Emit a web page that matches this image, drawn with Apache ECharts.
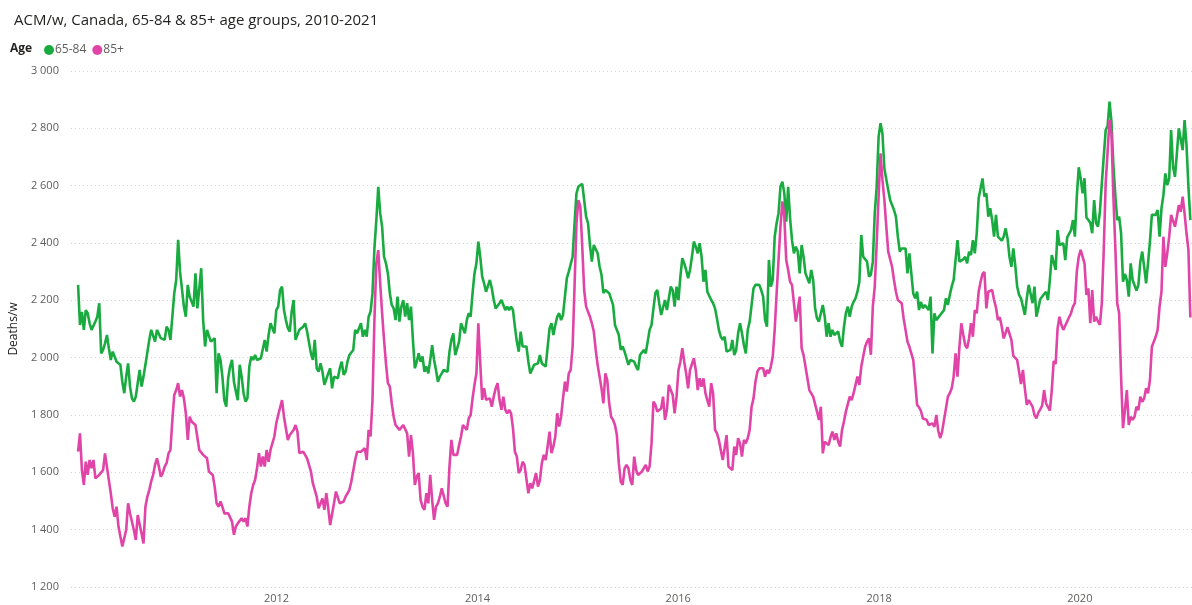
<!DOCTYPE html>
<html>
<head>
<meta charset="utf-8">
<title>ACM/w, Canada</title>
<script src="https://cdn.jsdelivr.net/npm/echarts@6/dist/echarts.min.js"></script>
<style>
  html, body { margin: 0; padding: 0; background: #fff; }
  #chart { width: 1192px; height: 605px; }
</style>
</head>
<body>
<div id="chart"></div>
<script>
// weekly deaths, week ending Saturdays from 2010-01-09
var firstWeek = Date.UTC(2010, 0, 9);

var age6584 = [
  // 2010
  2254,2114,2160,2097,2166,2155,2120,2097,2102,2126,2143,2190,2015,2027,2050,2079,2033,1992,2021,2004,
  1986,1980,1975,1916,1876,1934,1980,1899,1858,1847,1864,1911,1957,1899,1934,1975,1980,2062,2097,2102,
  2056,2097,2091,2068,2062,2062,2108,2097,2062,
  // 2011
  2143,2225,2271,2411,2300,2294,2178,2143,2254,2213,2207,2178,2294,2172,2178,2312,2131,2039,2097,2097,
  2056,2062,2068,1876,2015,1992,1934,1852,1829,1928,1969,1992,1916,1882,1852,1975,1934,1876,1847,1858,
  1969,2004,1992,2009,1992,1986,1998,1992,2062,2021,2079,2120,
  // 2012
  2120,2085,2166,2178,2236,2248,2166,2131,2103,2091,2160,2201,2062,2062,2097,2097,2108,2120,2091,2097,
  2015,1992,2062,1963,1951,1980,1951,1905,1899,1945,1963,1893,1934,1940,1928,1963,1986,1940,1951,1986,
  2009,2004,2027,2097,2085,2091,2120,2073,2097,2073,2143,
  // 2013
  2161,2225,2381,2480,2596,2504,2457,2352,2329,2294,2225,2184,2172,2131,2213,2126,2178,2201,2143,2190,
  2131,2178,2062,1963,1986,2015,1986,2004,1951,1969,1945,1992,2044,1992,1957,1916,1934,1945,1957,1957,
  1951,2021,2062,2085,2009,2009,2056,2120,2126,2085,2131,2155,
  // 2014
  2143,2225,2294,2329,2405,2352,2283,2259,2230,2236,2271,2242,2201,2172,2166,2190,2201,2207,2166,2178,
  2166,2178,2166,2108,2056,2021,2091,2039,2039,2039,1986,1945,1940,1975,1975,1980,2009,1980,1980,1969,
  1975,2102,2120,2079,2114,2143,2155,2131,2149,2213,2277,2300,
  // 2015
  2300,2352,2469,2573,2597,2602,2606,2550,2492,2469,2393,2335,2393,2393,2364,2318,2289,2225,2236,2230,
  2225,2219,2184,2114,2120,2079,2027,2039,2021,1998,1975,1992,1992,1986,1969,1957,2009,2004,2027,2015,
  2015,2097,2114,2172,2225,2236,2190,2149,2155,2201,2166,2207,
  // 2016
  2248,2236,2178,2248,2201,2283,2347,2329,2306,2277,2306,2352,2405,2387,2364,2399,2352,2265,2306,2230,
  2230,2201,2190,2172,2137,2097,2073,2062,2073,2021,2027,2027,2062,2009,2027,2085,2120,2085,2044,2015,
  2097,2126,2132,2242,2254,2259,2254,2236,2213,2132,2108,2341,
  // 2017
  2248,2271,2422,2469,2504,2596,2614,2573,2474,2596,2486,2410,2364,2387,2370,2294,2393,2352,2294,2277,
  2259,2306,2271,2172,2137,2126,2120,2184,2143,2073,2120,2073,2097,2079,2085,2091,2056,2038,2108,2155,
  2178,2143,2178,2195,2207,2230,2265,2428,2352,2352,2335,2283,
  // 2018
  2290,2335,2504,2596,2771,2818,2782,2660,2622,2585,2550,2544,2515,2492,2422,2370,2381,2376,2381,2294,
  2364,2294,2224,2207,2230,2166,2195,2172,2184,2190,2166,2213,2015,2155,2131,2137,2149,2143,2166,2207,
  2184,2219,2248,2271,2271,2410,2335,2335,2343,2352,2329,2370,
  // 2019
  2358,2410,2364,2434,2556,2556,2625,2562,2573,2492,2521,2480,2422,2498,2422,2422,2408,2422,2451,2416,
  2352,2317,2381,2323,2248,2219,2207,2201,2149,2207,2254,2259,2190,2248,2143,2172,2204,2210,2222,2230,
  2201,2271,2358,2352,2306,2445,2393,2393,2399,2340,2420,2422,
  // 2020 - Jan 2021
  2445,2480,2422,2562,2664,2626,2573,2626,2489,2480,2471,2434,2550,2469,2457,2509,2608,2614,2794,2808,
  2893,2823,2672,2567,2480,2492,2434,2265,2292,2271,2213,2329,2271,2271,2234,2254,2335,2370,2317,2259,
  2329,2405,2498,2504,2498,2515,2422,2521,2567,2643,2602,2625,2794,2666,2631,2713,2800,2800,2724,2829,
  2742,2596,2480
];

var age85plus = [
  // 2010
  1672,1736,1608,1556,1637,1591,1643,1614,1643,1579,1579,1591,1585,1608,1666,1672,1573,1527,1475,1445,
  1480,1411,1416,1341,1335,1399,1492,1457,1451,1399,1364,1451,1457,1387,1352,1480,1515,1538,1568,1591,
  1626,1649,1620,1585,1597,1620,1632,1666,1678,
  // 2011
  1783,1870,1887,1911,1864,1887,1858,1806,1713,1794,1777,1783,1765,1760,1678,1678,1661,1667,1649,1603,
  1603,1591,1550,1492,1480,1498,1480,1457,1457,1457,1463,1428,1382,1411,1422,1416,1440,1428,1440,1411,
  1480,1527,1556,1573,1614,1667,1620,1655,1620,1678,1637,1678,
  // 2012
  1678,1725,1771,1800,1806,1852,1794,1788,1713,1730,1725,1748,1765,1742,1667,1661,1672,1678,1649,1643,
  1603,1562,1568,1515,1475,1475,1509,1469,1527,1475,1416,1422,1492,1533,1539,1492,1486,1498,1515,1527,
  1539,1568,1568,1643,1672,1667,1672,1678,1684,1643,1748,
  // 2013
  1725,1853,2131,2329,2375,2259,2155,2062,1980,1911,1899,1841,1794,1765,1771,1748,1742,1765,1771,1736,
  1655,1730,1667,1556,1585,1597,1504,1480,1469,1527,1492,1591,1504,1434,1480,1492,1515,1544,1539,1492,
  1480,1620,1713,1661,1667,1661,1695,1725,1765,1760,1748,1788,
  // 2014
  1800,1858,1905,1945,2120,1980,1853,1893,1853,1847,1858,1829,1864,1893,1911,1853,1818,1864,1818,1806,
  1818,1806,1754,1672,1655,1597,1608,1637,1626,1632,1527,1562,1544,1539,1597,1550,1573,1632,1661,1643,
  1690,1742,1667,1690,1725,1806,1760,1794,1858,1916,1882,1945,
  // 2015
  1957,2039,2248,2469,2550,2527,2387,2236,2178,2172,2143,2120,2091,2027,1974,1934,1893,1841,1945,1922,
  1841,1794,1783,1765,1730,1632,1568,1556,1614,1626,1614,1573,1556,1655,1608,1591,1591,1603,1597,1626,
  1603,1620,1701,1847,1835,1812,1818,1823,1864,1783,1818,1905,
  // 2016
  1911,1870,1806,1864,1957,1986,2033,1986,1945,1893,1957,1963,1998,1957,1887,1928,1899,1928,1876,1852,
  1829,1911,1876,1748,1736,1713,1678,1643,1684,1730,1620,1614,1608,1690,1661,1719,1701,1655,1713,1701,
  1719,1748,1829,1858,1916,1951,1963,1957,1963,1934,1957,1945,
  // 2017
  1969,2004,2097,2224,2341,2457,2545,2492,2341,2306,2265,2254,2190,2126,2166,2213,2033,2009,1969,1928,
  1887,1887,1864,1858,1812,1783,1829,1666,1707,1707,1695,1722,1742,1713,1736,1707,1690,1748,1777,1812,
  1806,1864,1852,1876,1881,1934,1905,1969,2004,2038,2056,2067,
  // 2018
  2010,2178,2248,2399,2562,2713,2620,2550,2457,2370,2364,2317,2271,2230,2201,2201,2190,2137,2097,2056,
  2038,2044,1992,1916,1835,1827,1814,1788,1788,1783,1765,1762,1771,1759,1800,1745,1719,1742,1783,1823,
  1864,1876,1893,1934,2015,1934,2038,2120,2079,2044,2033,2067,
  // 2019
  2120,2073,2166,2155,2230,2265,2292,2299,2172,2230,2236,2236,2201,2175,2131,2141,2108,2067,2087,2106,
  2108,2062,2006,2004,1992,1951,1908,1957,1893,1835,1852,1858,1829,1800,1788,1808,1820,1833,1887,1841,
  1841,1815,1887,1989,1978,2102,2143,2114,2097,2112,2126,2141,
  // 2020 - Jan 2021
  2155,2178,2190,2300,2352,2376,2378,2329,2219,2242,2120,2236,2126,2143,2126,2114,2190,2376,2608,2719,
  2830,2782,2562,2387,2190,2155,1934,1754,1817,1887,1765,1794,1783,1794,1829,1817,1864,1846,1858,1893,
  1876,1922,2038,2038,2073,2097,2178,2230,2422,2317,2364,2422,2498,2494,2457,2492,2532,2509,2562,2503,
  2434,2376,2140
];

var seriesNames = ['65-84', '85+'];
var seriesColors = ['#1AAB40', '#E044A7'];
var yearLabels = [2012, 2014, 2016, 2018, 2020];

var WEEK = 7 * 24 * 3600 * 1000;
function withDates(values) {
  return values.map(function (v, i) { return [firstWeek + i * WEEK, v]; });
}

var font = 'Open Sans, Noto Sans, sans-serif';
var chart = echarts.init(document.getElementById('chart'), null, { renderer: 'canvas' });

chart.setOption({
  animation: false,
  backgroundColor: '#ffffff',
  title: {
    text: 'ACM/w, Canada, 65-84 & 85+ age groups, 2010-2021',
    left: 9,
    top: 8,
    textStyle: { fontFamily: font, fontSize: 15, fontWeight: 'normal', color: '#252423' }
  },
  graphic: [{
    type: 'text',
    left: 10,
    top: 43,
    style: { text: 'Age', font: 'bold 12px ' + font, fill: '#252423' }
  }],
  legend: {
    left: 39,
    top: 39,
    icon: 'circle',
    itemWidth: 10,
    itemHeight: 10,
    itemGap: 6,
    textStyle: { fontFamily: font, fontSize: 12, color: '#605E5C', padding: [0, 0, 0, -4] },
    data: seriesNames
  },
  grid: { left: 70, right: 0, top: 71, bottom: 18, containLabel: false },
  xAxis: {
    // dates as timestamps on a value scale, labelled by year
    type: 'value',
    min: Date.UTC(2009, 11, 14),
    max: Date.UTC(2021, 1, 12),
    axisLine: { show: false },
    axisTick: { show: false },
    splitLine: { show: false },
    axisLabel: {
      customValues: yearLabels.map(function (y) { return Date.UTC(y, 0, 1); }),
      formatter: function (v) { return String(new Date(v).getUTCFullYear()); },
      fontFamily: font,
      fontSize: 11,
      color: '#605E5C',
      margin: 6
    }
  },
  yAxis: {
    type: 'value',
    min: 1200,
    max: 3000,
    interval: 200,
    name: 'Deaths/w',
    nameLocation: 'middle',
    nameRotate: 90,
    nameGap: 47,
    nameTextStyle: { fontFamily: font, fontSize: 12, color: '#252423' },
    axisLine: { show: false },
    axisTick: { show: false },
    axisLabel: {
      fontFamily: font,
      fontSize: 11,
      color: '#605E5C',
      margin: 12,
      formatter: function (v) { return String(v).replace(/\B(?=(\d{3})+(?!\d))/g, ' '); }
    },
    splitLine: { lineStyle: { color: '#D0D0D0', width: 1, type: [1, 3] } }
  },
  series: [
    {
      name: seriesNames[0],
      type: 'line',
      data: withDates(age6584),
      showSymbol: false,
      color: seriesColors[0],
      lineStyle: { width: 2.6, color: seriesColors[0] },
      emphasis: { disabled: true }
    },
    {
      name: seriesNames[1],
      type: 'line',
      data: withDates(age85plus),
      showSymbol: false,
      color: seriesColors[1],
      lineStyle: { width: 2.6, color: seriesColors[1] },
      emphasis: { disabled: true }
    }
  ]
});
</script>
</body>
</html>
